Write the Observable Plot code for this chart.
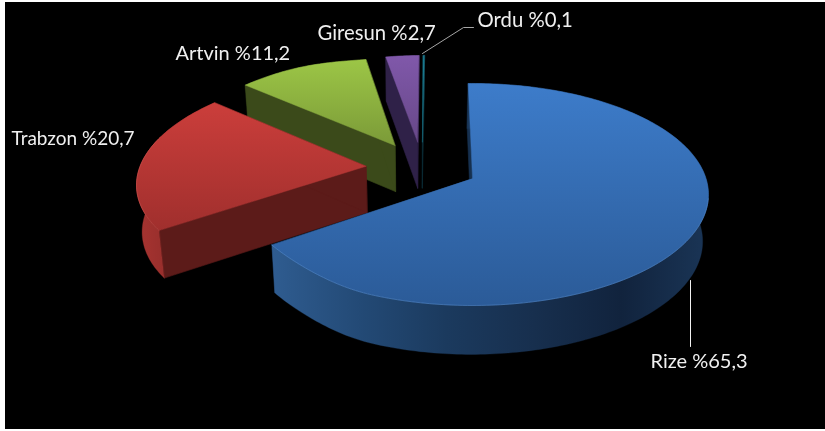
<!DOCTYPE html>
<html><head><meta charset="utf-8">
<script src="https://cdn.jsdelivr.net/npm/d3@7"></script>
<script src="https://cdn.jsdelivr.net/npm/@observablehq/plot@0.6"></script>
<style>html,body{margin:0;padding:0;background:#fff;overflow:hidden}svg{display:block;filter:blur(0.35px)}</style>
</head><body><div id="chart"></div>
<script>
const names = ["Rize", "Trabzon", "Artvin", "Giresun", "Ordu"];
const shares = [65.3, 20.7, 11.2, 2.7, 0.1];
const topFrom = ["#3d7cca", "#cb3e3b", "#9cc646", "#8058aa", "#1a7d92"];
const topTo = ["#2b5b98", "#a02f2d", "#7b9a38", "#674888", "#15687a"];
const wallRadial = ["#16304f", "#5c1b19", "#3b4a1a", "#2f2148", "#0a2a34"];
const wallRim = [
  ["#2f5c90", "#234a76", "#1b3a5e", "#172f4e", "#11233d", "#1a3556"],
  ["#a83431", "#7c2523"],
  ["#3b4a1a", "#3b4a1a"],
  ["#2f2148", "#2f2148"],
  ["#0a2a34", "#0a2a34"]
];
const rimGlow = ["#5f97da", "#d65a56", "#b0d060", "#9070b8", "#1a7d92"];

const W = 825, H = 431;
const view = {x0: 472, y0: 178, A: 233.5, B: 108.7, k: 0.144, explode: 0.245, startDeg: -1.2};
const wall = {scale: 0.98, vx: 417, depth: 46, yRef: 142, ySlope: 0.018};
const leftWarp = {from: 100, span: 100, dx: 5.5, dy: 3.5};

const rad = d => d * Math.PI / 180;
const project = ([u, v]) => {
  const d = 1 - view.k * v;
  const px = view.A * u / d, py = view.y0 + view.B * v / d;
  const t = Math.max(0, Math.min(1, (-px - leftWarp.from) / leftWarp.span));
  const e = t * t * (3 - 2 * t);
  return [view.x0 + px + leftWarp.dx * e, py - leftWarp.dy * e];
};
const lower = ([x, y]) => [wall.vx + (x - wall.vx) * wall.scale, y + wall.depth + (y - wall.yRef) * wall.ySlope];
const dir = a => [Math.sin(rad(a)), -Math.cos(rad(a))];

let acc = view.startDeg;
const total = d3.sum(shares);
const arcs = shares.map(s => { const a0 = acc, a1 = acc + s / total * 360; acc = a1; return {a0, a1, mid: (a0 + a1) / 2}; });
const rizeDir = dir(arcs[0].mid);
const C = [-view.explode * rizeDir[0], -view.explode * rizeDir[1]];

const slices = arcs.map((arc, i) => {
  const m = dir(arc.mid);
  const apex = [C[0] + view.explode * m[0], C[1] + view.explode * m[1]];
  const n = Math.max(2, Math.ceil(arc.a1 - arc.a0));
  const rimAngles = d3.range(n + 1).map(j => arc.a0 + (arc.a1 - arc.a0) * j / n);
  const rim = rimAngles.map(a => { const d = dir(a); return project([apex[0] + d[0], apex[1] + d[1]]); });
  return {i, ap: project(apex), rim, rimAngles};
});

const marks = [];
const defs = [];
const addGradient = (id, colors, x1, y1, x2, y2) => {
  const stops = colors.map((c, j) => `<stop offset="${j / (colors.length - 1)}" stop-color="${c}"/>`).join("");
  defs.push(`<linearGradient id="${id}" gradientUnits="userSpaceOnUse" x1="${x1}" y1="${y1}" x2="${x2}" y2="${y2}">${stops}</linearGradient>`);
};
const poly = (pts, fill, extra = {}) => Plot.line(pts, {
  x: d => d[0], y: d => d[1], curve: "linear-closed", fill, stroke: fill, strokeWidth: 0.6, ...extra
});

const panel = [{x1: 5, x2: W, y1: 2, y2: 429}];
marks.push(Plot.rect(panel, {x1: "x1", x2: "x2", y1: "y1", y2: "y2", fill: "#000"}));

[4, 3, 2, 1, 0].forEach(i => {
  const s = slices[i];
  const apB = lower(s.ap);
  const rimB = s.rim.map(lower);
  const xs = s.rim.map(p => p[0]);
  const ys = s.rim.map(p => p[1]);
  addGradient(`top${i}`, [topFrom[i], topTo[i]], 0, d3.min(ys), 0, Math.max(d3.max(ys), s.ap[1]));
  addGradient(`rim${i}`, wallRim[i], d3.min(xs), 0, d3.max(xs), 0);
  const first = s.rim[0], last = s.rim[s.rim.length - 1];
  marks.push(poly([s.ap, first, rimB[0], apB], wallRadial[i]));
  marks.push(poly([s.ap, last, rimB[rimB.length - 1], apB], wallRadial[i]));
  marks.push(poly([...s.rim, ...rimB.slice().reverse()], `url(#rim${i})`, {strokeWidth: 0.3}));
  marks.push(poly([s.ap, ...s.rim], `url(#top${i})`, {strokeWidth: 0.5}));
  const front = s.rim.filter((p, j) => s.rimAngles[j] > 100 && s.rimAngles[j] < 285);
  if (front.length > 1) marks.push(Plot.line(front, {x: d => d[0], y: d => d[1], stroke: rimGlow[i], strokeWidth: 1, strokeOpacity: 0.45}));
});

const leaders = [
  {name: "Ordu", pts: [[422, 53], [463, 27], [473, 27]], c: "#a6a6a6"},
  {name: "Rize", pts: [[690, 280], [690, 346]], c: "#f2f2f2"}
];
leaders.forEach(l => marks.push(Plot.line(l.pts, {x: d => d[0], y: d => d[1], stroke: l.c, strokeWidth: 1})));

const labelAt = {Rize: [650, 361, 20], Trabzon: [11, 138, 19], Artvin: [175, 53, 20], Giresun: [317, 33, 20.3], Ordu: [477, 20, 20.3]};
const labels = names.map((n, i) => ({text: `${n} %${shares[i].toFixed(1).replace(".", ",")}`, x: labelAt[n][0], y: labelAt[n][1], size: labelAt[n][2]}));
labels.forEach(l => marks.push(Plot.text([l], {x: "x", y: "y", text: "text", textAnchor: "start", fill: "#f0f0f0", fontSize: l.size, fontFamily: "Lato", lineAnchor: "middle"})));

marks.unshift(() => {
  const g = document.createElementNS("http://www.w3.org/2000/svg", "defs");
  g.innerHTML = defs.join("");
  return g;
});

const chart = Plot.plot({
  width: W, height: H, margin: 0,
  x: {domain: [0, W], range: [0, W], axis: null},
  y: {domain: [0, H], range: [0, H], axis: null},
  style: {background: "#fff"},
  marks
});
document.getElementById("chart").appendChild(chart);
</script></body></html>
